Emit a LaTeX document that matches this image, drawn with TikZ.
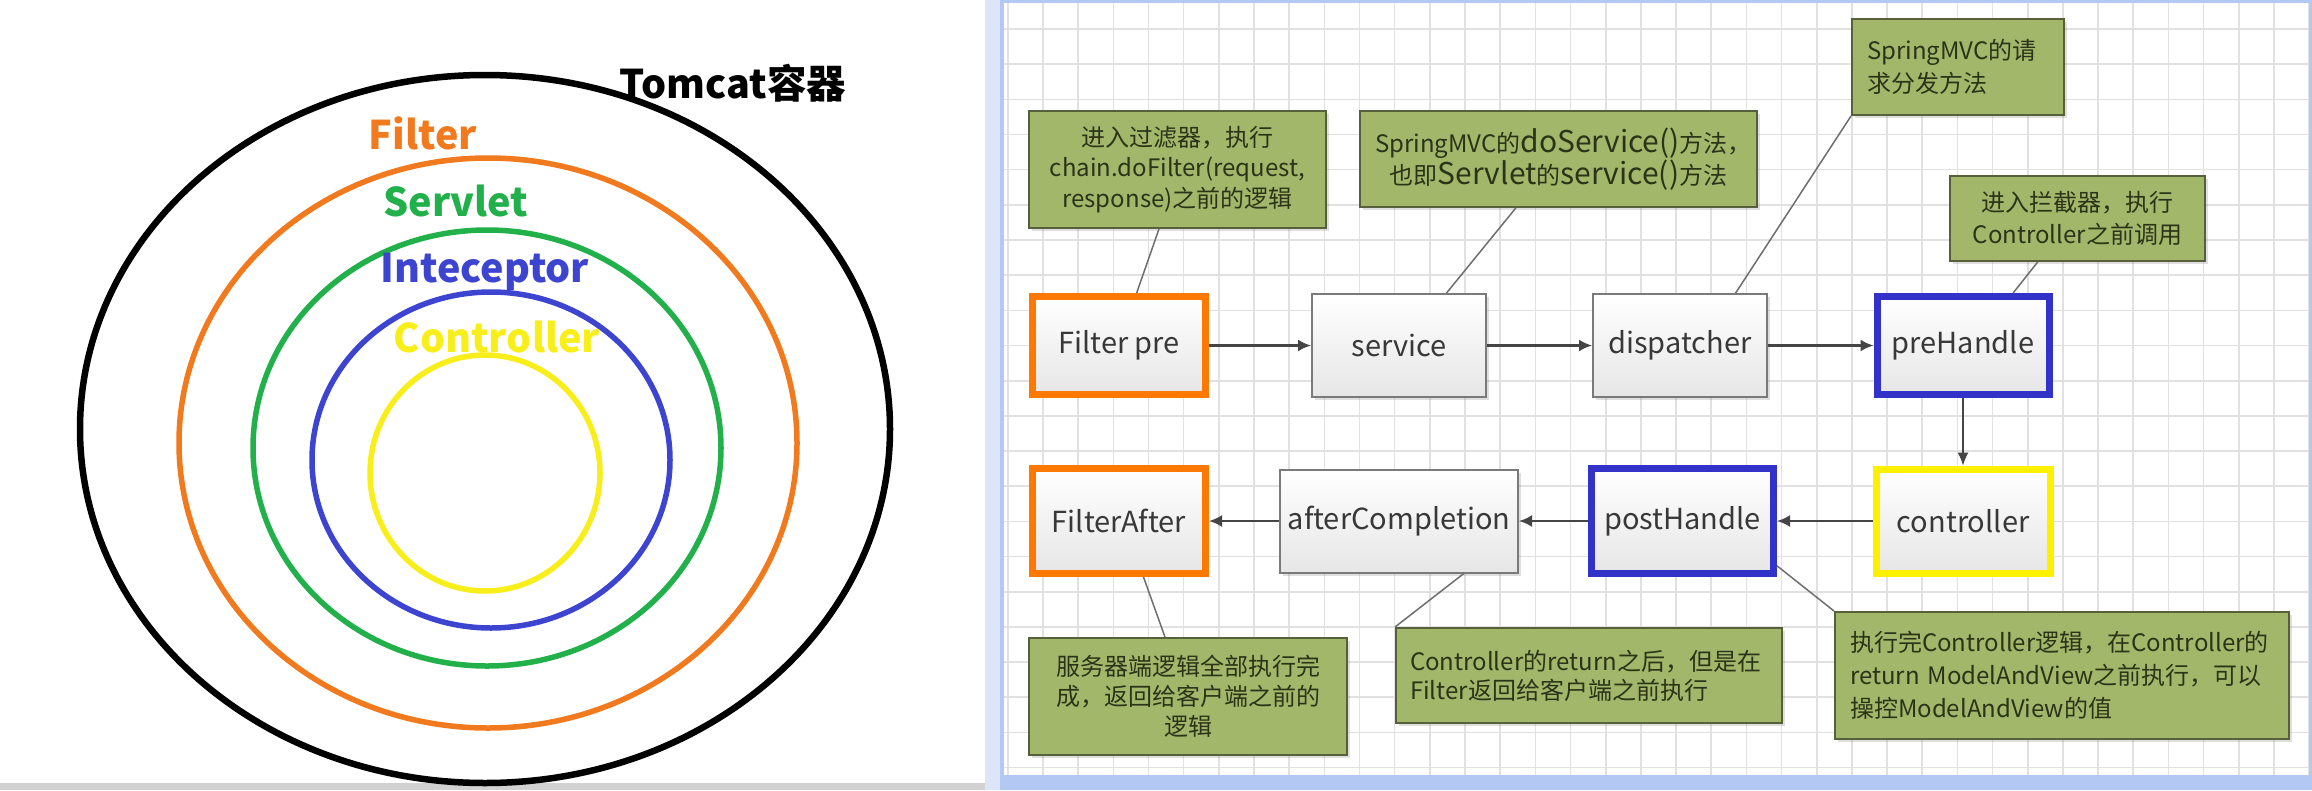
\documentclass[tikz,border=0pt]{standalone}
\usepackage{fontspec}
\newfontfamily\cjk{Noto Sans CJK SC}
\usetikzlibrary{arrows.meta,shadows,calc}
\definecolor{cOrange}{HTML}{F27A1E}
\definecolor{cGreen}{HTML}{22B04A}
\definecolor{cBlue}{HTML}{3C44D0}
\definecolor{cYellow}{HTML}{F8EE1A}
\definecolor{boxOrange}{HTML}{FF7800}
\definecolor{boxBlue}{HTML}{3232C8}
\definecolor{boxYellow}{HTML}{FFF000}
\definecolor{procDraw}{HTML}{7A7A7A}
\definecolor{procBot}{HTML}{E6E6E6}
\definecolor{procText}{HTML}{383838}
\definecolor{noteFill}{HTML}{A3B76B}
\definecolor{noteDraw}{HTML}{56613C}
\definecolor{noteText}{HTML}{2B3418}
\definecolor{gridc}{HTML}{E1E1E1}
\definecolor{frameBlue}{HTML}{B3C8F2}
\definecolor{arrowc}{HTML}{454545}
\definecolor{connc}{HTML}{6E6E6E}
\tikzset{
  ring/.style={line width=5.5pt},
  ringlbl/.style={font=\cjk\bfseries\fontsize{39.5}{46}\selectfont, inner sep=0pt},
  proc/.style={draw=procDraw, line width=2pt, top color=white, bottom color=procBot,
    inner sep=0pt, text=procText, font=\cjk\fontsize{29}{34}\selectfont,
    drop shadow={shadow xshift=3pt, shadow yshift=-3pt, opacity=0.25}},
  thick proc/.style={proc, line width=7pt},
  note/.style={draw=noteDraw, fill=noteFill, line width=2pt, inner xsep=15pt, inner ysep=0pt,
    text=noteText, font=\cjk\fontsize{24}{30.5}\selectfont,
    drop shadow={shadow xshift=3pt, shadow yshift=-3pt, opacity=0.25}},
  flow/.style={draw=arrowc, line width=2.2pt, -{Latex[length=13pt,width=12pt]}},
  thinflow/.style={draw=arrowc, line width=1.3pt, -{Latex[length=13pt,width=11pt]}},
  conn/.style={draw=connc, line width=1.5pt},
  gridl/.style={draw=gridc, line width=1.6pt}
}
\begin{document}
\begin{tikzpicture}[x=1pt,y=-1pt]
\useasboundingbox (0,0) rectangle (2312,790);
\fill[white] (0,0) rectangle (2312,790);
% frame pieces
\fill[gray!35] (0,783) rectangle (985,790);
\fill[frameBlue!45] (985,0) rectangle (1000,790);
\fill[frameBlue] (1000,0) rectangle (2312,790);
\fill[white] (1004,3) rectangle (2309,775);
\begin{scope}
  \clip (1004,3) rectangle (2309,775);
  \foreach \i in {0,...,37} { \draw[gridl] ({1007.8+\i*35.17},3) -- ({1007.8+\i*35.17},775); }
  \foreach \j in {0,...,21} { \draw[gridl] (1004,{29+\j*35.17}) -- (2309,{29+\j*35.17}); }
\end{scope}

% ---------- left panel: nested rings ----------
\draw[ring, black, line width=6.5pt] (485,429) ellipse [x radius=405pt, y radius=354pt];
\draw[ring, cOrange] (488,443) ellipse [x radius=309pt, y radius=285pt];
\draw[ring, cGreen] (487,448) ellipse [x radius=234pt, y radius=218pt];
\draw[ring, cBlue] (491,460) ellipse [x radius=179pt, y radius=168pt];
\draw[ring, cYellow] (485,473) ellipse [x radius=115pt, y radius=118pt];
\node[ringlbl, text=black] (tomcat) at (733,83) {Tomcat容器};
\node[ringlbl, text=cOrange] (filterlbl) at (423,133) {Filter};
\node[ringlbl, text=cGreen] (servletlbl) at (456,201) {Servlet};
\node[ringlbl, text=cBlue] (intlbl) at (485,272) {Inteceptor};
\node[ringlbl, text=cYellow] (ctrllbl) at (497,337) {Controller};

% ---------- right panel: flow ----------
\node[thick proc, draw=boxOrange, minimum width=173pt, minimum height=98pt] (fpre) at (1119,345.5) {Filter pre};
\node[proc, minimum width=174pt, minimum height=103pt] (service) at (1399,345.5) {service};
\node[proc, minimum width=174pt, minimum height=103pt] (dispatcher) at (1680,345.5) {dispatcher};
\node[thick proc, draw=boxBlue, minimum width=172pt, minimum height=98pt] (prehandle) at (1963,345.5) {preHandle};

\node[thick proc, draw=boxOrange, minimum width=173pt, minimum height=105pt] (fafter) at (1119,521) {FilterAfter};
\node[proc, minimum width=238pt, minimum height=103pt] (aftercomp) at (1399,521) {afterCompletion};
\node[thick proc, draw=boxBlue, minimum width=182pt, minimum height=105pt] (posthandle) at (1682.5,521) {postHandle};
\node[thick proc, draw=boxYellow, minimum width=174pt, minimum height=104pt] (controller) at (1963,521) {controller};

\draw[flow] (fpre) -- (service);
\draw[flow] (service) -- (dispatcher);
\draw[flow] (dispatcher) -- (prehandle);
\draw[thinflow] (prehandle) -- (controller);
\draw[flow] (controller) -- (posthandle);
\draw[flow] (posthandle) -- (aftercomp);
\draw[flow] (aftercomp) -- (fafter);

% notes
\node[note, align=center, text width=267pt, minimum height=117pt] (n1) at (1177.5,169.5)
  {进入过滤器，执行\\chain.doFilter(request,\\response)之前的逻辑};
\node[note, align=center, text width=367pt, minimum height=96pt, font=\cjk\fontsize{24}{28}\selectfont] (n2) at (1558.5,159)
  {SpringMVC的{\fontsize{30}{28}\selectfont doService()}方法，\\也即{\fontsize{30}{28}\selectfont Servlet}的{\fontsize{30}{28}\selectfont service()}方法};
\node[note, align=left, text width=182pt, minimum height=96pt, font=\cjk\fontsize{24}{33}\selectfont] (n3) at (1958,67)
  {SpringMVC的请\\求分发方法};
\node[note, align=center, text width=225pt, minimum height=85pt, font=\cjk\fontsize{24}{32}\selectfont] (n4) at (2077.5,218.5)
  {进入拦截器，执行\\Controller之前调用};
\node[note, align=center, text width=288pt, minimum height=117pt, font=\cjk\fontsize{24}{30}\selectfont] (n5) at (1188,696.5)
  {服务器端逻辑全部执行完\\成，返回给客户端之前的\\逻辑};
\node[note, align=left, text width=358pt, inner xsep=14pt, minimum height=95pt, font=\cjk\fontsize{24}{29}\selectfont] (n6) at (1589,675.5)
  {Controller的return之后，但是在\\Filter返回给客户端之前执行};
\node[note, align=left, text width=424pt, minimum height=127pt, font=\cjk\fontsize{24}{33}\selectfont] (n7) at (2062,675.5)
  {执行完Controller逻辑，在Controller的\\return ModelAndView之前执行，可以\\操控ModelAndView的值};

% note connectors
\draw[conn] ($(n1.south west)!0.438!(n1.south east)$) -- ($(fpre.north west)!0.598!(fpre.north east)$);
\draw[conn] ($(n2.south west)!0.393!(n2.south east)$) -- ($(service.north west)!0.77!(service.north east)$);
\draw[conn] (n3.south west) -- ($(dispatcher.north west)!0.816!(dispatcher.north east)$);
\draw[conn] ($(n4.south west)!0.345!(n4.south east)$) -- ($(prehandle.north west)!0.78!(prehandle.north east)$);
\draw[conn] ($(fafter.south west)!0.636!(fafter.south east)$) -- ($(n5.north west)!0.428!(n5.north east)$);
\draw[conn] ($(aftercomp.south west)!0.77!(aftercomp.south east)$) -- (n6.north west);
\draw[conn] ($(posthandle.south east)!0.1!(posthandle.north east)$) -- (n7.north west);
\end{tikzpicture}
\end{document}
